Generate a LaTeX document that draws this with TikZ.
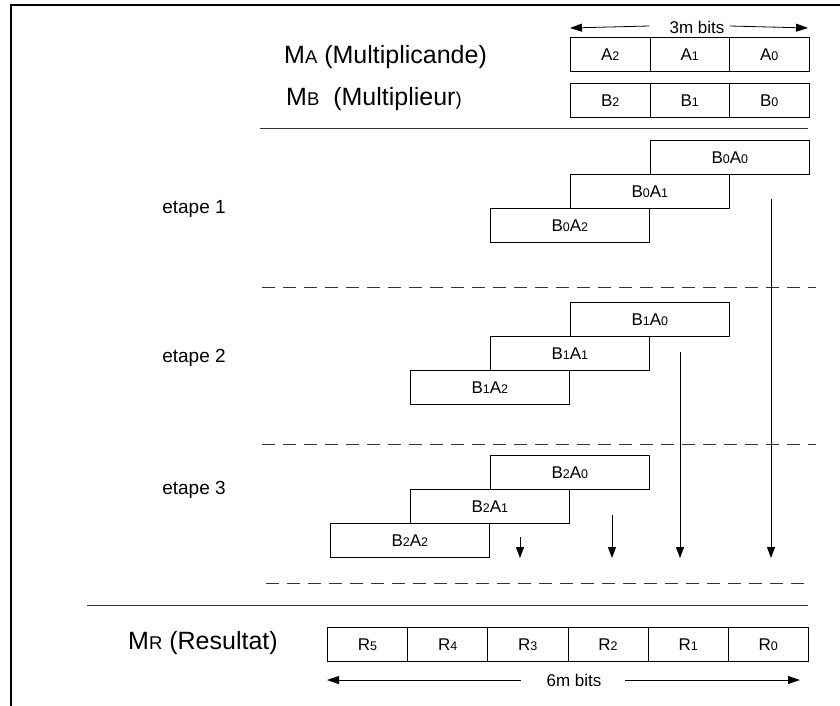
\documentclass[tikz,border=0pt]{standalone}
\usepackage{fontspec}
\setmainfont{Liberation Sans}
\usetikzlibrary{arrows.meta}
% small index digits / letters set on the baseline
\newcommand\lo[1]{{\fontsize{12.5}{13}\selectfont #1}}
\newcommand\los[1]{{\fontsize{18.5}{19}\selectfont #1}}
\begin{document}
\begin{tikzpicture}[x=1pt,y=-1pt,
  cell/.style={draw, line width=0.8pt, minimum height=34pt, inner sep=0pt,
               anchor=north west, font=\fontsize{17}{18}\selectfont},
  w1/.style={cell, minimum width=79.5pt},
  w2/.style={cell, minimum width=159pt},
  w6/.style={cell, minimum width=80.2pt},
  title/.style={font=\fontsize{25}{26}\selectfont, anchor=west, inner sep=0pt},
  stage/.style={font=\fontsize{19}{20}\selectfont},
  rule/.style={line width=0.8pt, draw=black!80},
  sep/.style={line width=0.8pt, draw=black!80, dash pattern=on 13pt off 8pt},
  down/.style={line width=0.9pt, -{Triangle[length=11pt,width=8pt]}},
  lt/.style={line width=0.8pt, {Triangle[length=12pt,width=8pt]}-},
  rt/.style={line width=0.8pt, -{Triangle[length=12pt,width=8pt]}},
  lbl/.style={inner sep=0pt, font=\fontsize{17}{18}\selectfont}
]
\useasboundingbox (0,0) rectangle (840,706);
\draw[line width=1.6pt] (11,706) -- (11,5) -- (840,5);

% operands
\node[title] (ma) at (284,57) {M\los{A} (Multiplicande)};
\node[title] (mb) at (286,99) {M\los{B} \ (Multiplieu{r\los{)}}};

\node[w1] (a2) at (570,37) {A\lo{2}};
\node[w1] (a1) at (649.5,37) {A\lo{1}};
\node[w1] (a0) at (729,37) {A\lo{0}};
\node[w1] (b2) at (570,83) {B\lo{2}};
\node[w1] (b1) at (649.5,83) {B\lo{1}};
\node[w1] (b0) at (729,83) {B\lo{0}};

% operand width
\node[lbl] (t3) at (697,27) {3m bits};
\coordinate (s3l) at (570,28);
\coordinate (s3r) at (808,28);
\draw[lt] (s3l) -- ([xshift=-20pt,yshift=1pt]t3.west);
\draw[rt] ([xshift=5pt,yshift=1pt]t3.east) -- (s3r);

\coordinate (r1l) at (260,128);
\coordinate (r1r) at (808,128);
\draw[rule] (r1l) -- (r1r);

% stage 1
\node[w2] (p00) at (650,140) {B\lo{0}A\lo{0}};
\node[w2] (p01) at (570,174) {B\lo{0}A\lo{1}};
\node[w2] (p02) at (490,208) {B\lo{0}A\lo{2}};
\node[stage] (e1) at (194,209) {etape 1};

\coordinate (d1l) at (262,287);
\coordinate (d1r) at (816,287);
\draw[sep] (d1l) -- (d1r);

% stage 2
\node[w2] (p10) at (570,302) {B\lo{1}A\lo{0}};
\node[w2] (p11) at (490,336) {B\lo{1}A\lo{1}};
\node[w2] (p12) at (410,370) {B\lo{1}A\lo{2}};
\node[stage] (e2) at (194,358) {etape 2};

\coordinate (d2l) at (262,444);
\coordinate (d2r) at (816,444);
\draw[sep] (d2l) -- (d2r);

% stage 3
\node[w2] (p20) at (490,455) {B\lo{2}A\lo{0}};
\node[w2] (p21) at (410,489) {B\lo{2}A\lo{1}};
\node[w2] (p22) at (330,523) {B\lo{2}A\lo{2}};
\node[stage] (e3) at (194,490) {etape 3};

% partial-sum flow arrows
\coordinate (f0s) at (771,199);
\coordinate (f0e) at (771,558);
\coordinate (f1s) at (680,352);
\coordinate (f1e) at (680,558);
\coordinate (f2s) at (612,515);
\coordinate (f2e) at (612,558);
\coordinate (f3s) at (520,537);
\coordinate (f3e) at (520,558);
\draw[down] (f0s) -- (f0e);
\draw[down] (f1s) -- (f1e);
\draw[down] (f2s) -- (f2e);
\draw[down] (f3s) -- (f3e);

\coordinate (d3l) at (266,583);
\coordinate (d3r) at (810,583);
\draw[sep] (d3l) -- (d3r);

\coordinate (r2l) at (87,605);
\coordinate (r2r) at (808,605);
\draw[rule] (r2l) -- (r2r);

% result
\node[title] (mr) at (128,643) {M\los{R} (Resultat)};
\node[w6] (r5) at (327,627) {R\lo{5}};
\node[w6] (r4) at (407.2,627) {R\lo{4}};
\node[w6] (r3) at (487.3,627) {R\lo{3}};
\node[w6] (r2) at (567.5,627) {R\lo{2}};
\node[w6] (r1) at (647.7,627) {R\lo{1}};
\node[w6] (r0) at (727.8,627) {R\lo{0}};

% result width
\node[lbl] (t6) at (574,680) {6m bits};
\coordinate (s6l) at (327,680);
\coordinate (s6r) at (800,680);
\draw[lt] (s6l) -- ([xshift=-25pt]t6.west);
\draw[rt] ([xshift=23pt]t6.east) -- (s6r);
\end{tikzpicture}
\end{document}
